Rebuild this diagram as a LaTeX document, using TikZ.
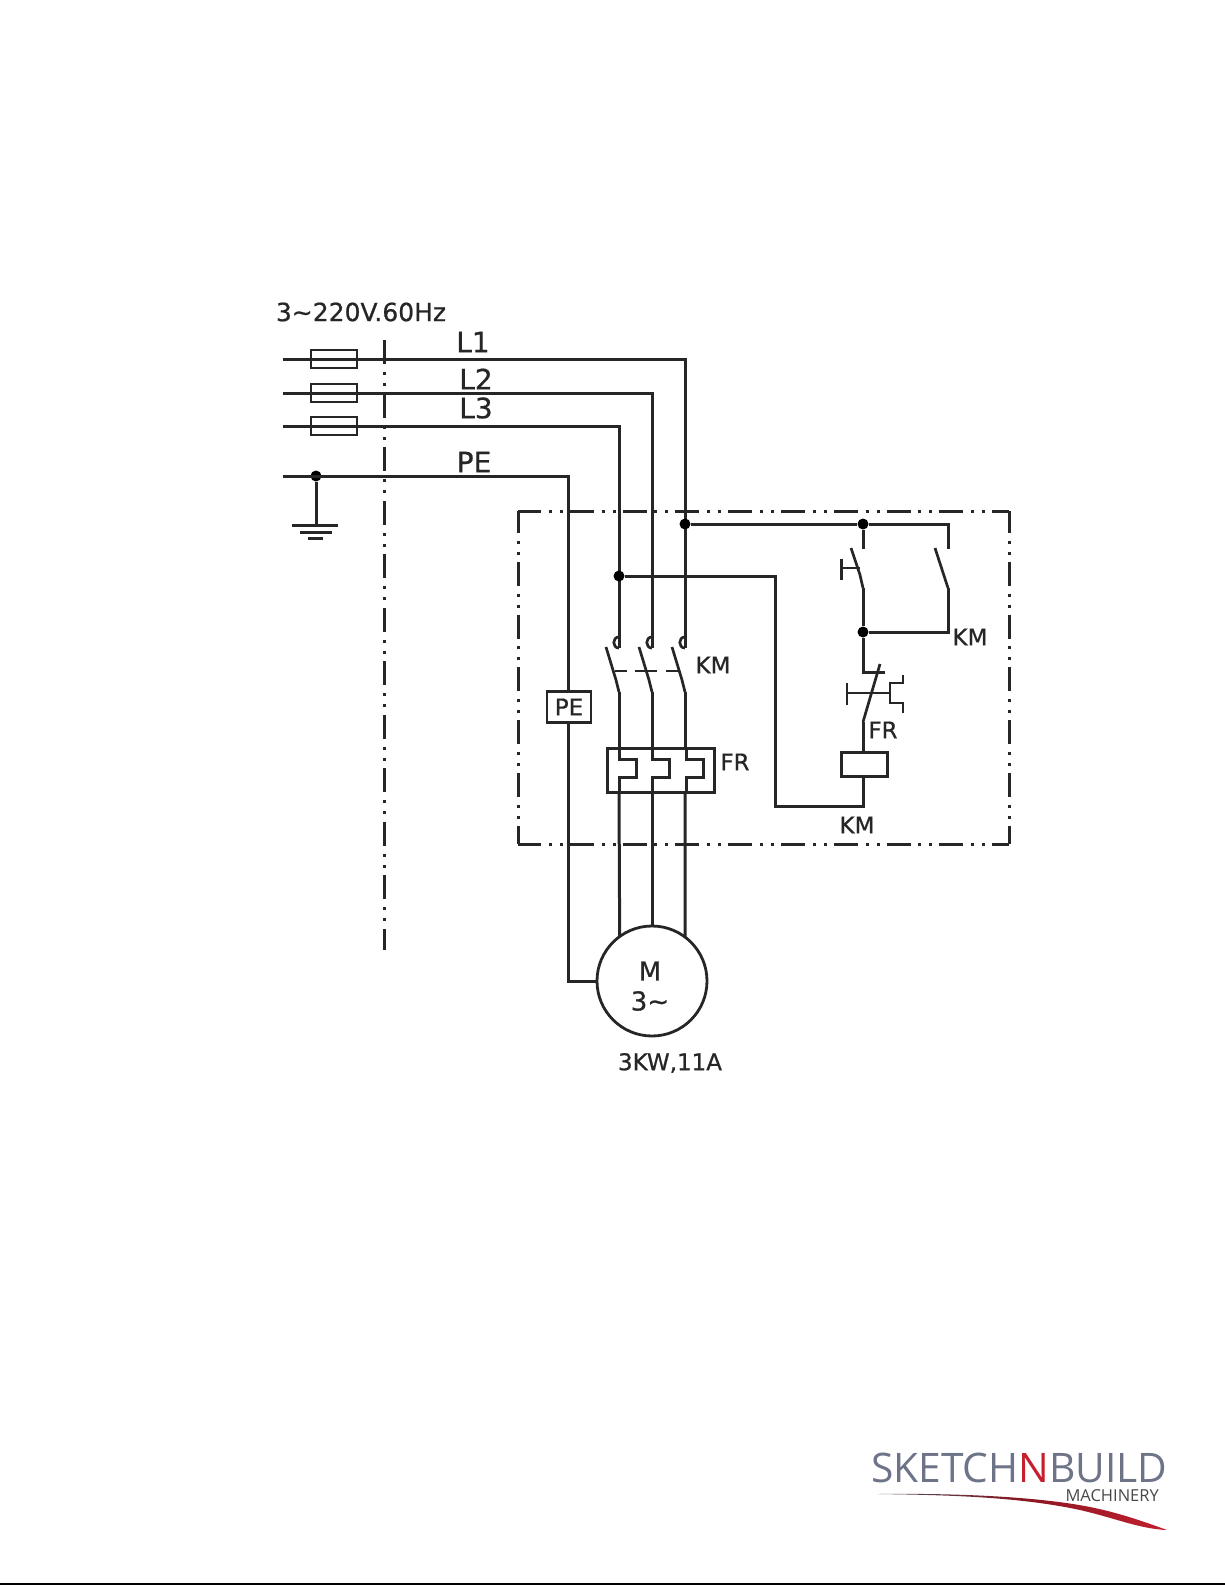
\documentclass[tikz,border=0pt]{standalone}
\usepackage{fontspec}
\setmainfont{DejaVu Sans}[FakeBold=0.7]
\newfontfamily\logofont{Open Sans}
\definecolor{ink}{HTML}{262626}
\definecolor{logogray}{HTML}{6E7488}
\definecolor{logored}{HTML}{C4202F}
\tikzset{
  wire/.style = {color=ink, line width=3pt},
  blade/.style = {color=ink, line width=2.7pt},
  dot/.style = {circle,fill=black,inner sep=0pt,minimum size=11pt},
  fuse/.style = {draw=ink,line width=2.8pt,inner sep=0pt,minimum width=46pt,minimum height=18pt},
  coil/.style = {draw=ink,line width=3pt,inner sep=0pt,minimum width=46pt,minimum height=24pt},
  tag/.style = {color=ink,inner sep=0pt,font=\fontsize{#1}{#1}\selectfont},
  tag/.default = 23,
  frameline/.style = {color=ink, line width=3pt, dash pattern=on 24pt off 7.8pt on 3pt off 8pt on 3pt off 7pt, dash phase=#1},
  axisline/.style = {color=ink, line width=3pt, dash pattern=on 24pt off 8pt on 3pt off 8pt on 3pt off 7.5pt},
  linkage/.style = {color=ink, line width=2.4pt, dash pattern=on 12pt off 8pt on 22pt off 9pt on 12pt}
}
\newcommand{\contactmain}[2][]{%
  % #1: optional scope style
  % #2: lower end of the incoming wire
  \begin{scope}[shift={(#2)}, #1]
    \draw[blade] (0,-11) .. controls (-7,-11) and (-7,0) .. (0,0);
    \draw[blade] (-13,-1) -- (-3,32) -- (0,44);
  \end{scope}
}
\newcommand{\thermalelem}[2][]{%
  % #1: optional scope style
  % #2: point on the upper edge of the relay box
  \begin{scope}[shift={(#2)}, #1]
    \draw[wire] (0,0) -- (0,11) -- (17,11) -- (17,29) -- (0,29) -- (0,44);
  \end{scope}
}
\begin{document}
\begin{tikzpicture}[x=1pt,y=-1pt]

    \useasboundingbox (0,0) rectangle (1225,1585);

    % Coordinates
    \coordinate (L1in) at (283,359);
    \coordinate (L2in) at (283,393);
    \coordinate (L3in) at (283,426);
    \coordinate (PEin) at (283,476);
    \coordinate (L1turn) at (685,359);
    \coordinate (L2turn) at (652,393);
    \coordinate (L3turn) at (619,426);
    \coordinate (PEturn) at (568,476);
    \coordinate (C1) at (619,648);
    \coordinate (C2) at (652,648);
    \coordinate (C3) at (685,648);
    \coordinate (T1) at (619,748);
    \coordinate (T2) at (652,748);
    \coordinate (T3) at (685,748);
    \coordinate (frameTL) at (518,511);
    \coordinate (frameTR) at (1009,511);
    \coordinate (frameBL) at (518,844);
    \coordinate (frameBR) at (1009,844);

    % Frames
    \draw[axisline] (384,340) -- (384,950);
    \draw[frameline=1] (frameTL) -- (frameTR);
    \draw[frameline=1] (frameBL) -- (frameBR);
    \draw[frameline=2] (frameTL) -- (frameBL);
    \draw[frameline=2] (frameTR) -- (frameBR);

    % Fuses
    \node[fuse] (fuseA) at (334,359) {};
    \node[fuse] (fuseB) at (334,393) {};
    \node[fuse] (fuseC) at (334,426) {};

    % Earth
    \node[dot] (earthdot) at (316,476) {};
    \coordinate (earth) at (316,525);
    \draw[wire] (earthdot) -- (earth);
    \draw[wire] (292,525) -- (338,525);
    \draw[wire] (300,532) -- (332,532);
    \draw[wire] (308,538) -- (323,538);

    % Motor and PE box
    \node[draw=ink,line width=2.8pt,circle,minimum size=110pt,inner sep=0pt,outer sep=0pt] (motor) at (652,981) {};
    \node[tag=26] (motorname) at (650,971) {M};
    \node[tag=26] (motorphase) at (650,1001) {3\textasciitilde};
    \node[draw=ink,line width=2.9pt,tag=23,inner sep=0pt,minimum width=44pt,minimum height=31pt] (pebox) at (569,707) {PE};

    % Lines
    \draw[wire] (L1in) -- (L1turn) -- (C3);
    \draw[wire] (L2in) -- (L2turn) -- (C2);
    \draw[wire] (L3in) -- (L3turn) -- (C1);
    \draw[wire] (PEin) -- (PEturn) -- (pebox.north -| PEturn);
    \draw[wire] (pebox.south -| PEturn) |- (motor.west);

    % Main contacts
    \contactmain{C1}
    \contactmain{C2}
    \contactmain{C3}
    \draw[linkage] (615,671) -- (678,671);

    % Thermal relay
    \draw[wire] (607,748) rectangle (714,792);
    \thermalelem{T1}
    \thermalelem{T2}
    \thermalelem[xshift=1pt]{T3}
    \draw[wire] (619,692) -- (T1);
    \draw[wire] (652,692) -- (T2);
    \draw[wire] (685,692) -- (T3);
    \draw[wire] (619,792) -- (motor.126.87);
    \draw[wire] (652,792) -- (motor.north);
    \draw[wire] (685,792) -- (motor.53.13);

    % Control circuit
    \node[dot] (dotL1) at (685,524) {};
    \node[dot] (dotL3) at (619,576) {};
    \node[dot] (dotTop) at (863,524) {};
    \node[dot] (dotHold) at (863,632) {};
    \node[coil] (coil) at (864,764) {};
    \coordinate (holdtop) at (948,549);
    \coordinate (holdlow) at (948,588);
    \coordinate (corner) at (775,806);
    \draw[wire] (dotL1) -- (dotTop) -- (863,549);
    \draw[wire] (dotTop) -- (948,524) -- (holdtop);
    \draw[blade] (935,548) -- (holdlow);
    \draw[wire] (holdlow) -- (948,632) -- (dotHold);
    \draw[blade] (851,548) -- (860,575) -- (863,588);
    \draw[blade] (860,568) -- (841,568);
    \draw[wire] (841,559) -- (841,580);
    \draw[wire] (863,588) -- (dotHold);
    \draw[wire] (dotHold) -- (863,672) -- (885,672);
    \draw[blade] (880,664) -- (863,722);
    \draw[blade] (847,683) -- (847,705);
    \draw[blade] (847,693) -- (890,693);
    \draw[blade] (903,675) -- (903,683) -- (890,683) -- (890,703) -- (903,703) -- (903,713);
    \draw[wire] (863,722) -- (coil.north -| 863,722);
    \draw[wire] (coil.south -| 863,722) -- (863,806) -- (corner) -- (775,576) -- (dotL3);

    % Labels
    \node[tag=25] (supply) at (361,312) {3\textasciitilde220V.60Hz};
    \node[tag=28] (labelL1) at (473,342) {L1};
    \node[tag=28] (labelL2) at (476,379) {L2};
    \node[tag=28] (labelL3) at (476,408) {L3};
    \node[tag=28] (labelPE) at (474,462) {PE};
    \node[tag=23] (labelKMa) at (713,665) {KM};
    \node[tag=23] (labelFRa) at (735,762) {FR};
    \node[tag=23] (labelKMb) at (970,637) {KM};
    \node[tag=23] (labelFRb) at (883,730) {FR};
    \node[tag=23] (labelKMc) at (857,825) {KM};
    \node[tag=23] (rating) at (670,1063) {3KW,11A};

    % Logo
    \node[anchor=base west,inner sep=0pt,text=logogray,font=\logofont\fontsize{40.7}{40.7}\selectfont] (logotext) at (871,1482)
      {SKETCH\textcolor{logored}{N}BUILD};
    \node[anchor=base east,inner sep=0pt,text=ink!85,font=\logofont\fontsize{16.5}{16.5}\selectfont] (logosub) at (1159,1501.5) {MACHINERY};
    \shade[left color=logogray!70!black,right color=logored,middle color=logored!70!black,draw=none]
      (878,1494) .. controls (960,1493) and (1040,1497) .. (1090,1507)
      .. controls (1120,1513) and (1145,1522) .. (1167,1530)
      .. controls (1140,1529) and (1115,1518) .. (1080,1510)
      .. controls (1020,1497) and (950,1495) .. cycle;

    % Page edge
    \draw[black,line width=1.5pt] (0,1584) -- (1225,1584);

\end{tikzpicture}
\end{document}
